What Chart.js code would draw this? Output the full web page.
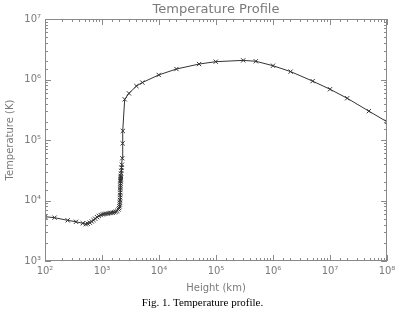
<!DOCTYPE html>
<html>
<head>
<meta charset="utf-8">
<script src="https://cdn.jsdelivr.net/npm/chart.js@4/dist/chart.umd.min.js"></script>
<style>
html,body{margin:0;padding:0;background:#fff;}
canvas{display:block;}
</style>
</head>
<body>
<canvas id="c" width="405" height="314"></canvas>
<script>
// Height (km)
const heights = [100,147,250,350,460,520,560,610,660,710,760,820,880,950,1030,1100,1180,1270,1360,1450,1550,1650,1750,1850,1950,2000,2030,2050,2060,2070,2080,2085,2090,2095,2100,2105,2110,2115,2120,2125,2130,2135,2140,2160,2180,2200,2230,2270,2300,2320,2500,2970,4010,5100,9900,20200,50500,99000,300000,500000,1000000,2040000,4960000,10000000,20000000,48000000,100000000];
// Temperature (K)
const temps = [5400,5200,4700,4450,4200,4050,4150,4300,4500,4750,5000,5300,5550,5750,5900,6000,6050,6100,6200,6250,6300,6400,6550,6750,7100,7500,8000,8600,9300,10200,11200,12300,13500,14900,16200,17500,19000,20500,21500,22500,23500,24500,25500,28000,31000,35000,39000,50000,88000,141000,470000,590000,780000,890000,1190000,1490000,1800000,1970000,2070000,2000000,1690000,1350000,940000,690000,490000,300000,200000];
const xTickLabels = {2:'10²',3:'10³',4:'10⁴',5:'10⁵',6:'10⁶',7:'10⁷',8:'10⁸'};
const yTickLabels = {3:'10³',4:'10⁴',5:'10⁵',6:'10⁶',7:'10⁷'};

const axisGray = '#8a8a8a';
const textGray = '#7a7a7a';

function decadeExp(v){
  const l = Math.log10(v);
  const r = Math.round(l);
  return Math.abs(l - r) < 1e-6 ? r : null;
}

const inTicks = {
  id: 'inTicks',
  afterDraw(chart){
    const {ctx, chartArea:a, scales} = chart;
    const x = scales.x, y = scales.y;
    ctx.save();
    ctx.strokeStyle = axisGray;
    ctx.lineWidth = 1;
    ctx.strokeRect(Math.round(a.left)+0.5, Math.round(a.top)+0.5, Math.round(a.right-a.left)-1, Math.round(a.bottom-a.top)-1);
    ctx.beginPath();
    x.ticks.forEach(t => {
      const px = Math.round(x.getPixelForValue(t.value)) + 0.5;
      const L = decadeExp(t.value) !== null ? 6 : 3;
      ctx.moveTo(px, a.bottom); ctx.lineTo(px, a.bottom - L);
      ctx.moveTo(px, a.top); ctx.lineTo(px, a.top + L);
    });
    y.ticks.forEach(t => {
      const py = Math.round(y.getPixelForValue(t.value)) + 0.5;
      const L = decadeExp(t.value) !== null ? 6 : 3;
      ctx.moveTo(a.left, py); ctx.lineTo(a.left + L, py);
      ctx.moveTo(a.right, py); ctx.lineTo(a.right - L, py);
    });
    ctx.stroke();
    ctx.restore();
  }
};

new Chart(document.getElementById('c'), {
  type: 'scatter',
  data: {
    datasets: [{
      data: heights.map((h,i) => ({x:h, y:temps[i]})),
      showLine: true,
      borderColor: '#333',
      borderWidth: 1,
      pointStyle: 'crossRot',
      pointRadius: 3,
      pointBorderColor: '#333',
      pointBorderWidth: 1,
      pointBackgroundColor: 'transparent',
      tension: 0
    }]
  },
  options: {
    responsive: false,
    animation: false,
    devicePixelRatio: 1,
    layout: {padding: 0},
    plugins: {
      legend: {display: false},
      tooltip: {enabled: false},
      title: {
        display: true,
        text: 'Temperature Profile',
        fullSize: false,
        color: textGray,
        font: {family: 'DejaVu Sans', size: 13, weight: 'normal'},
        padding: {top: 2, bottom: 1.4}
      },
      subtitle: {
        display: true,
        position: 'bottom',
        text: 'Fig. 1. Temperature profile.',
        color: '#000',
        font: {family: 'Liberation Serif', size: 11, weight: 'normal'},
        padding: {top: 3, bottom: 3.8}
      }
    },
    scales: {
      x: {
        type: 'logarithmic',
        position: 'bottom',
        min: 100, max: 1e8,
        grid: {display: false, drawTicks: false},
        border: {display: false},
        ticks: {
          autoSkip: false, maxRotation: 0, padding: 4,
          color: textGray,
          font: {family: 'DejaVu Sans', size: 10},
          callback: v => { const e = decadeExp(v); return e !== null && xTickLabels[e] ? xTickLabels[e] : ''; }
        },
        title: {display: true, text: 'Height (km)', color: textGray,
          font: {family: 'DejaVu Sans', size: 10}, padding: {top: 0, bottom: 0}},
        afterFit: s => { s.height = 33; }
      },
      y: {
        type: 'logarithmic',
        position: 'left',
        min: 1e3, max: 1e7,
        grid: {display: false, drawTicks: false},
        border: {display: false},
        ticks: {
          autoSkip: false, padding: 4,
          color: textGray,
          font: {family: 'DejaVu Sans', size: 10},
          callback: v => { const e = decadeExp(v); return e !== null && yTickLabels[e] ? yTickLabels[e] : ''; }
        },
        title: {display: true, text: 'Temperature (K)', color: textGray,
          font: {family: 'DejaVu Sans', size: 10}, padding: {top: 4, bottom: 0}},
        afterFit: s => { s.width = 45; }
      },
      yr: {
        type: 'logarithmic',
        position: 'right',
        min: 1e3, max: 1e7,
        grid: {display: false, drawTicks: false},
        border: {display: false},
        ticks: {display: false},
        afterFit: s => { s.width = 18; }
      }
    }
  },
  plugins: [inTicks]
});
</script>
</body>
</html>
